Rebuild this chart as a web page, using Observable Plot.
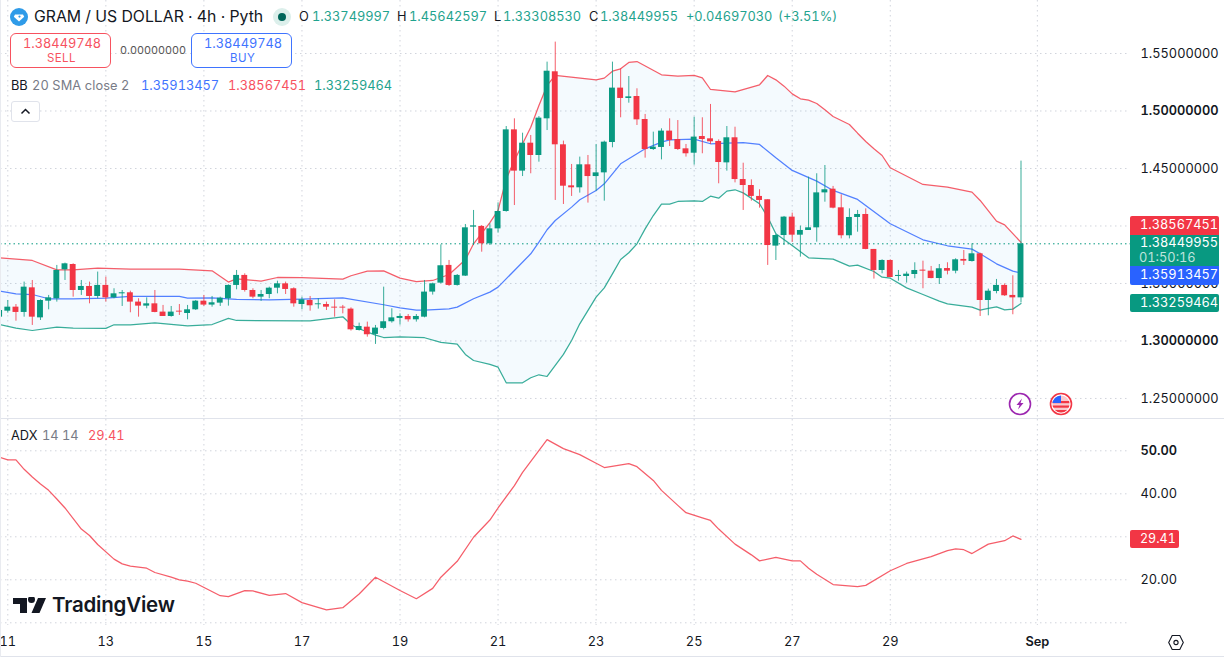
<!DOCTYPE html>
<html><head><meta charset="utf-8">
<script src="https://cdn.jsdelivr.net/npm/d3@7"></script>
<script src="https://cdn.jsdelivr.net/npm/@observablehq/plot@0.6"></script>
<style>
html,body{margin:0;padding:0;background:#fff;overflow:hidden}
#chart{position:relative;width:1224px;height:657px;font-family:Inter,sans-serif;color:#131722;overflow:hidden}
#chart svg.plot{position:absolute;left:0;display:block}
.t{position:absolute;white-space:nowrap;font-size:12.8px;line-height:16px;font-variant-numeric:tabular-nums}
.box{position:absolute;box-sizing:border-box}
.g{color:#1fa38e}.r{color:#f7525f}.b{color:#3f74ff}.m{color:#787b86}
</style></head><body><div id="chart"></div>
<script>
// candles: first entry is bar -1 (4h bars, bar 0 = 11 Aug 00:00)
const barOpen = [1.3207,1.3259,1.3294,1.3248,1.3462,1.3201,1.3346,1.3367,1.3619,1.3665,1.3439,1.3474,1.3387,1.3483,1.3375,1.3410,1.3419,1.3338,1.3303,1.3323,1.3251,1.3213,1.3259,1.3239,1.3271,1.3346,1.3312,1.3329,1.3367,1.3483,1.3570,1.3439,1.3381,1.3404,1.3459,1.3497,1.3454,1.3317,1.3352,1.3315,1.3317,1.3294,1.3294,1.3277,1.3091,1.3120,1.3057,1.3109,1.3167,1.3196,1.3213,1.3184,1.3207,1.3425,1.3503,1.3657,1.3483,1.3564,1.3990,1.3996,1.3845,1.3975,1.4126,1.4836,1.4477,1.4720,1.4613,1.4932,1.5341,1.4706,1.4349,1.4332,1.4532,1.4430,1.4462,1.4726,1.5199,1.5109,1.5126,1.4926,1.4665,1.4683,1.4825,1.4752,1.4671,1.4633,1.4778,1.4758,1.4735,1.4549,1.4767,1.4404,1.4352,1.4257,1.4228,1.3825,1.3917,1.4077,1.3920,1.3961,1.3984,1.4288,1.4320,1.4158,1.3915,1.4074,1.4100,1.3796,1.3613,1.3700,1.3561,1.3561,1.3578,1.3616,1.3607,1.3543,1.3630,1.3607,1.3709,1.3691,1.3758,1.3352,1.3430,1.3483,1.3396,1.3375];
const barHigh = [1.3280,1.3352,1.3317,1.3512,1.3526,1.3358,1.3396,1.3657,1.3677,1.3671,1.3526,1.3512,1.3599,1.3555,1.3454,1.3439,1.3433,1.3367,1.3375,1.3439,1.3309,1.3300,1.3317,1.3309,1.3352,1.3396,1.3387,1.3381,1.3488,1.3613,1.3584,1.3454,1.3439,1.3468,1.3520,1.3512,1.3462,1.3381,1.3387,1.3367,1.3338,1.3358,1.3309,1.3288,1.3155,1.3164,1.3135,1.3468,1.3280,1.3236,1.3230,1.3230,1.3526,1.3503,1.3836,1.3700,1.3578,1.4013,1.4135,1.4004,1.4019,1.4201,1.4865,1.4932,1.4807,1.4787,1.4952,1.5425,1.5599,1.4738,1.4535,1.4599,1.4613,1.4709,1.4738,1.5425,1.5367,1.5300,1.5193,1.4970,1.4816,1.4845,1.4932,1.4917,1.4709,1.4946,1.4941,1.5057,1.4749,1.4865,1.4859,1.4546,1.4401,1.4315,1.4228,1.3926,1.4083,1.4112,1.3999,1.4425,1.4454,1.4526,1.4344,1.4271,1.4149,1.4135,1.4149,1.3796,1.3706,1.3706,1.3613,1.3599,1.3680,1.3694,1.3648,1.3665,1.3680,1.3715,1.3787,1.3845,1.3764,1.3451,1.3535,1.3497,1.3567,1.4564];
const barLow = [1.3201,1.3242,1.3172,1.3207,1.3135,1.3178,1.3271,1.3338,1.3526,1.3381,1.3396,1.3323,1.3367,1.3338,1.3367,1.3300,1.3245,1.3207,1.3280,1.3245,1.3213,1.3207,1.3222,1.3184,1.3265,1.3300,1.3294,1.3300,1.3303,1.3445,1.3425,1.3367,1.3344,1.3367,1.3410,1.3404,1.3294,1.3271,1.3259,1.3277,1.3265,1.3207,1.3236,1.3086,1.3086,1.3033,1.2970,1.3097,1.3155,1.3138,1.3164,1.3164,1.3201,1.3399,1.3497,1.3474,1.3477,1.3561,1.3830,1.3772,1.3830,1.3938,1.4120,1.4178,1.4430,1.4454,1.4555,1.4830,1.4222,1.4187,1.4257,1.4286,1.4199,1.4303,1.4216,1.4680,1.4941,1.5068,1.4874,1.4590,1.4657,1.4575,1.4691,1.4657,1.4599,1.4529,1.4628,1.4709,1.4367,1.4477,1.4375,1.4135,1.4216,1.4155,1.3657,1.3700,1.3830,1.3857,1.3729,1.3961,1.3859,1.4207,1.4149,1.3888,1.3888,1.3946,1.3793,1.3538,1.3584,1.3549,1.3520,1.3503,1.3541,1.3454,1.3541,1.3491,1.3575,1.3584,1.3657,1.3686,1.3213,1.3219,1.3410,1.3387,1.3228,1.3331];
const barClose = [1.3265,1.3294,1.3248,1.3468,1.3207,1.3352,1.3375,1.3613,1.3671,1.3439,1.3474,1.3387,1.3483,1.3375,1.3410,1.3419,1.3338,1.3303,1.3323,1.3248,1.3213,1.3251,1.3251,1.3271,1.3346,1.3312,1.3332,1.3372,1.3483,1.3570,1.3439,1.3381,1.3404,1.3459,1.3497,1.3448,1.3323,1.3358,1.3306,1.3323,1.3294,1.3286,1.3286,1.3097,1.3126,1.3054,1.3112,1.3167,1.3201,1.3213,1.3184,1.3213,1.3425,1.3497,1.3654,1.3483,1.3570,1.3984,1.4001,1.3845,1.3975,1.4126,1.4836,1.4477,1.4720,1.4613,1.4938,1.5346,1.4706,1.4346,1.4332,1.4532,1.4430,1.4462,1.4729,1.5199,1.5109,1.5123,1.4923,1.4665,1.4686,1.4825,1.4743,1.4665,1.4628,1.4773,1.4752,1.4732,1.4552,1.4767,1.4404,1.4352,1.4257,1.4222,1.3830,1.3917,1.4077,1.3920,1.3961,1.3984,1.4288,1.4315,1.4155,1.3915,1.4074,1.4100,1.3796,1.3613,1.3700,1.3552,1.3570,1.3581,1.3613,1.3607,1.3543,1.3628,1.3607,1.3706,1.3694,1.3758,1.3352,1.3433,1.3483,1.3393,1.3375,1.3845];
// Bollinger Bands, read at the bars where the line bends
const upperBars = [-1,3,6,8,11,15,21,25,27,28,31,33,36,41,42,44,46,48,50,52,54,56,57,59,60,61,62,63,64,65,66,67,72,73,74,75,76,77,80,82,84,85,86,89,92,93,94,95,96,97,98,99,100,101,102,103,104,105,106,107,108,112,115,118,119,121,122,124];
const upperVals = [1.3723,1.3700,1.3619,1.3619,1.3633,1.3625,1.3625,1.3610,1.3512,1.3541,1.3520,1.3552,1.3550,1.3538,1.3567,1.3607,1.3610,1.3546,1.3517,1.3526,1.3578,1.3706,1.3845,1.4030,1.4135,1.4410,1.4570,1.4715,1.4859,1.5048,1.5222,1.5309,1.5271,1.5286,1.5346,1.5367,1.5422,1.5430,1.5315,1.5303,1.5309,1.5288,1.5187,1.5167,1.5228,1.5309,1.5271,1.5216,1.5149,1.5106,1.5094,1.5065,1.5010,1.4952,1.4917,1.4883,1.4807,1.4735,1.4671,1.4613,1.4506,1.4361,1.4338,1.4294,1.4222,1.4042,1.4010,1.3857];
const basisBars = [-1,1,3,5,8,12,15,21,22,25,28,32,36,41,46,48,50,51,54,55,57,59,60,62,64,65,66,67,69,70,72,73,75,78,80,81,84,86,88,90,92,94,96,99,101,104,108,112,115,118,119,121,123,124];
const basisVals = [1.3433,1.3410,1.3404,1.3367,1.3367,1.3372,1.3387,1.3387,1.3372,1.3375,1.3361,1.3358,1.3364,1.3375,1.3315,1.3288,1.3268,1.3268,1.3280,1.3294,1.3367,1.3425,1.3468,1.3613,1.3758,1.3859,1.3967,1.4048,1.4164,1.4228,1.4309,1.4367,1.4541,1.4671,1.4729,1.4749,1.4755,1.4715,1.4720,1.4725,1.4709,1.4593,1.4483,1.4390,1.4309,1.4231,1.4019,1.3880,1.3828,1.3799,1.3758,1.3671,1.3607,1.3591];
const lowerBars = [-1,1,3,6,8,12,13,15,18,22,25,27,28,36,37,40,41,42,43,45,46,48,51,53,55,56,57,59,60,61,63,64,65,66,68,69,70,72,73,74,75,76,77,78,79,80,81,82,84,85,86,87,88,89,90,92,93,94,96,98,101,103,104,106,107,108,110,112,114,115,118,119,120,121,122,123,124];
const lowerVals = [1.3143,1.3112,1.3091,1.3120,1.3112,1.3109,1.3141,1.3141,1.3158,1.3132,1.3143,1.3196,1.3178,1.3175,1.3175,1.3201,1.3210,1.3143,1.3106,1.3051,1.3030,1.3036,1.3028,1.2987,1.2972,1.2883,1.2830,1.2796,1.2772,1.2636,1.2636,1.2680,1.2706,1.2691,1.2883,1.3004,1.3149,1.3381,1.3462,1.3584,1.3709,1.3767,1.3845,1.3975,1.4091,1.4190,1.4190,1.4213,1.4219,1.4213,1.4259,1.4242,1.4303,1.4315,1.4288,1.4193,1.4077,1.3932,1.3830,1.3723,1.3712,1.3651,1.3659,1.3604,1.3555,1.3546,1.3462,1.3404,1.3346,1.3323,1.3294,1.3268,1.3283,1.3297,1.3271,1.3277,1.3326];
// ADX
const adxBars = [-1,0,1,2,3,4,5,6,7,9,10,11,13,14,15,17,18,20,21,22,23,26,27,29,30,32,34,36,39,41,43,45,48,50,52,53,55,57,59,60,62,63,66,68,70,72,73,76,77,79,80,82,83,85,86,87,89,91,92,94,96,97,98,99,101,104,105,108,110,113,115,116,117,118,120,122,123,124];
const adxVals = [48.5,47.9,47.9,45.7,43.9,42.3,40.8,38.8,36.7,31.8,30.3,28.2,24.8,23.7,23.2,22.7,21.7,20.6,20.0,19.7,19.2,16.3,16.1,17.5,17.4,16.4,16.8,14.7,13.0,13.5,16.7,20.6,17.5,15.6,18.0,20.6,24.3,29.9,33.9,36.7,41.9,45.0,52.6,50.5,49.1,47.1,46.1,47.0,46.3,43.1,40.8,37.3,35.6,34.4,33.8,31.8,28.3,25.8,24.4,25.2,24.4,24.4,22.7,21.3,18.9,18.4,18.7,22.1,23.8,25.4,26.8,27.2,27.0,26.1,28.3,29.1,30.2,29.41];
// axes
const dayTicks = [0,12,24,36,48,60,72,84,96,108];
const dayLabels = ["11","13","15","17","19","21","23","25","27","29"];
const monthTick = 126, monthLabel = "Sep";
const priceGrid = [1.25,1.30,1.35,1.40,1.45,1.50,1.55];
const priceTicks = [1.25,1.35,1.45,1.55];
const priceTicksBold = [1.30,1.50];
const adxGrid = [10,20,30,40,50];
const adxTicks = [20,40];
const adxTicksBold = [50];
const lastClose = 1.38449955;

const GREEN="#089981",RED="#f23645",BLUE="#2962ff";
const bars = barOpen.map((o,k)=>({i:k-1,open:o,high:barHigh[k],low:barLow[k],close:barClose[k]}));
const upBars = bars.filter(d=>d.close>=d.open), downBars = bars.filter(d=>d.close<d.open);
const zip=(xs,ys)=>xs.map((x,k)=>({x,y:ys[k]}));
const upper=zip(upperBars,upperVals),basis=zip(basisBars,basisVals),lower=zip(lowerBars,lowerVals),adx=zip(adxBars,adxVals);
const band=[...upper,...lower.slice().reverse()];

const xDomain=[-0.893,137.4];
const dots={strokeDasharray:"1.5,3.5",stroke:"#d1d4dc",strokeOpacity:1};
const svgStyle={fontFamily:"Inter,sans-serif",fontSize:"12.8px",color:"#131722",background:"transparent"};
const candleW=0.36, lineW=1.25;

const pricePane=Plot.plot({width:1224,height:419,marginTop:0,marginBottom:0,marginLeft:0,marginRight:94,
  style:svgStyle,
  x:{type:"linear",domain:xDomain,axis:null},
  y:{type:"linear",domain:[1.2317,1.5961],axis:null},
  marks:[
    Plot.gridX([...dayTicks,monthTick],dots),
    Plot.gridY(priceGrid,dots),
    Plot.line(band,{x:"x",y:"y",fill:"#2196f3",fillOpacity:0.05,stroke:"none"}),
    Plot.line(upper,{x:"x",y:"y",stroke:RED,strokeWidth:lineW,strokeOpacity:.8}),
    Plot.line(lower,{x:"x",y:"y",stroke:GREEN,strokeWidth:lineW,strokeOpacity:.8}),
    Plot.line(basis,{x:"x",y:"y",stroke:BLUE,strokeWidth:lineW,strokeOpacity:.8}),
    Plot.ruleY([lastClose],{stroke:GREEN,strokeDasharray:"1.5,3"}),
    Plot.ruleX(upBars,{x:"i",y1:"low",y2:"high",stroke:GREEN,strokeWidth:1,strokeOpacity:.8}),
    Plot.ruleX(downBars,{x:"i",y1:"low",y2:"high",stroke:RED,strokeWidth:1,strokeOpacity:.8}),
    Plot.rect(upBars,{x1:d=>d.i-candleW,x2:d=>d.i+candleW,y1:"open",y2:"close",fill:GREEN}),
    Plot.rect(downBars,{x1:d=>d.i-candleW,x2:d=>d.i+candleW,y1:"open",y2:"close",fill:RED}),
    Plot.axisY({anchor:"right",ticks:priceTicks,tickSize:0,tickPadding:10,tickFormat:d=>d.toFixed(8),label:null}),
    Plot.axisY({anchor:"right",ticks:priceTicksBold,tickSize:0,tickPadding:10,tickFormat:d=>d.toFixed(8),fontWeight:"600",label:null})
  ]});

const adxPane=Plot.plot({width:1224,height:238,marginTop:0,marginBottom:32,marginLeft:0,marginRight:94,
  style:svgStyle,
  x:{type:"linear",domain:xDomain,axis:null},
  y:{type:"linear",domain:[9.37,57.28],axis:null},
  marks:[
    Plot.gridX([...dayTicks,monthTick],dots),
    Plot.gridY(adxGrid,dots),
    Plot.line(adx,{x:"x",y:"y",stroke:RED,strokeWidth:lineW,strokeOpacity:.8}),
    Plot.axisY({anchor:"right",ticks:adxTicks,tickSize:0,tickPadding:10,tickFormat:d=>d.toFixed(2),label:null}),
    Plot.axisY({anchor:"right",ticks:adxTicksBold,tickSize:0,tickPadding:10,tickFormat:d=>d.toFixed(2),fontWeight:"600",label:null}),
    Plot.axisX({anchor:"bottom",ticks:dayTicks,tickSize:0,tickPadding:11,tickFormat:d=>dayLabels[dayTicks.indexOf(d)],label:null}),
    Plot.axisX({anchor:"bottom",ticks:[monthTick],tickSize:0,tickPadding:11,tickFormat:()=>monthLabel,fontWeight:"600",label:null})
  ]});

const root=document.getElementById("chart");
pricePane.style.top="0px"; adxPane.style.top="419px";
pricePane.classList.add("plot"); adxPane.classList.add("plot");
root.append(pricePane,adxPane);

// overlay: separators, legends, price tags
const T=(s,x,y,cls="",extra="")=>`<div class="t ${cls}" style="left:${x}px;top:${y-8}px;${extra}">${s}</div>`;
const B=(x,y,w,h,css,inner="")=>`<div class="box" style="left:${x}px;top:${y}px;width:${w}px;height:${h}px;${css}">${inner}</div>`;
const overlay=
 B(0,418,1224,1,"background:#e0e3eb")+B(0,656,1224,1,"background:#e0e3eb")+B(0,0,1,657,"background:#e9ebf0")+
 `<svg style="position:absolute;left:10px;top:8px" width="18" height="18" viewBox="0 0 18 18"><circle cx="9" cy="9" r="9" fill="#2f9be8"/><path d="M5 6.5h8l1.2 2.2L9 13.5 3.8 8.7z" fill="#fff"/><circle cx="9.5" cy="8.6" r="1.1" fill="#2f9be8"/></svg>`+
 T("GRAM / US DOLLAR · 4h · Pyth",34,17,"","font-size:15.8px;color:#131722")+
 `<div class="box" style="left:273px;top:8px;width:18px;height:18px;border-radius:9px;background:#dcefeb"></div><div class="box" style="left:278px;top:13px;width:8px;height:8px;border-radius:4px;background:#00665a"></div>`+
 T("O",299,17)+T("1.33749997",312,17,"g")+T("H",397,17)+T("1.45642597",409,17,"g")+
 T("L",494,17)+T("1.33308530",503,17,"g")+T("C",589,17)+T("1.38449955",600,17,"g")+
 T("+0.04697030",686,17,"g")+T("(+3.51%)",778,17,"g")+
 B(10,33,101,35,`border:1px solid #f7525f;border-radius:6px;background:#fff`)+
 T("1.38449748",23,44,"r")+T("SELL",47,58,"r","font-size:11.5px;letter-spacing:.4px")+
 T("0.00000000",120,51,"","font-size:10.8px;color:#555")+
 B(191,33,101,35,`border:1px solid #3f74ff;border-radius:6px;background:#fff`)+
 T("1.38449748",204,44,"b")+T("BUY",230,58,"b","font-size:11.5px;letter-spacing:.4px")+
 T("BB",11,86)+T("20 SMA close 2",32,86,"m","letter-spacing:.1px")+T("1.35913457",141,86,"b")+T("1.38567451",228,86,"r")+T("1.33259464",314,86,"g")+
 B(11,101,29,21,"border:1px solid #e0e3eb;border-radius:3px;background:#fff")+
 `<svg style="position:absolute;left:20px;top:108px" width="11" height="7" viewBox="0 0 11 7"><path d="M1.5 5.5L5.5 1.5 9.5 5.5" fill="none" stroke="#131722" stroke-width="1.5"/></svg>`+
 T("ADX",11,436)+T("14 14",42,436,"m")+T("29.41",88,436,"r")+
 B(1130,216,89,19,`background:${RED};border-radius:2px 2px 0 0`,`<div class="t" style="left:10px;top:1px;color:#fff">1.38567451</div>`)+
 B(1130,235,89,31,`background:${GREEN}`,`<div class="t" style="left:10px;top:0;color:#fff">1.38449955</div><div class="t" style="left:9px;top:15px;color:#bfe4dd">01:50:16</div>`)+
 B(1130,266,89,19,`background:${BLUE};border-radius:0 0 2px 2px`,`<div class="t" style="left:10px;top:1px;color:#fff">1.35913457</div>`)+
 B(1130,294,89,18,`background:${GREEN};border-radius:2px`,`<div class="t" style="left:10px;top:1px;color:#fff">1.33259464</div>`)+
 B(1130,530,49,18,`background:${RED};border-radius:2px`,`<div class="t" style="left:10px;top:1px;color:#fff;font-size:12.5px">29.41</div>`)+
 `<svg style="position:absolute;left:1008px;top:392px" width="24" height="24" viewBox="0 0 24 24"><circle cx="12" cy="12" r="10.5" fill="#fff" stroke="#9c27b0" stroke-width="1.6"/><path d="M14 6.5L8.5 13h3l-1.5 4.5L15.5 11h-3z" fill="#9c27b0"/></svg>`+
 `<svg style="position:absolute;left:1049px;top:392px" width="24" height="24" viewBox="0 0 24 24"><circle cx="12" cy="12" r="10.5" fill="#fff" stroke="${RED}" stroke-width="1.6"/><clipPath id="f"><circle cx="12" cy="12" r="8.6"/></clipPath><g clip-path="url(#f)"><rect x="2" y="2" width="20" height="20" fill="#f9c9cd"/><rect x="2" y="9" width="20" height="2.2" fill="${RED}"/><rect x="2" y="13.5" width="20" height="2.2" fill="${RED}"/><rect x="2" y="18" width="20" height="3" fill="${RED}"/><rect x="3" y="3" width="9" height="8" fill="#2962ff"/></g></svg>`+
 `<svg style="position:absolute;left:13px;top:597px" width="33" height="17" viewBox="0 0 33 17"><path d="M0 0h14v15H7V6H0zM25 0h8l-6.5 15h-8zM15 1.5a3.5 3.5 0 1 1 7 0 3.5 3.5 0 0 1-7 0z" fill="#131722" transform="translate(0,1)"/></svg>`+
 T("TradingView",52,605,"","font-size:20.5px;font-weight:600;letter-spacing:-.2px;line-height:16px")+
 `<svg style="position:absolute;left:1168px;top:634px" width="16" height="17" viewBox="0 0 16 17"><path d="M4.2 1.5h7.6L15.3 8.5l-3.5 7H4.2L.7 8.5z" fill="none" stroke="#131722" stroke-width="1.1"/><circle cx="8" cy="8.5" r="2.1" fill="none" stroke="#131722" stroke-width="1.1"/></svg>`;
root.insertAdjacentHTML("beforeend",overlay);
</script></body></html>
